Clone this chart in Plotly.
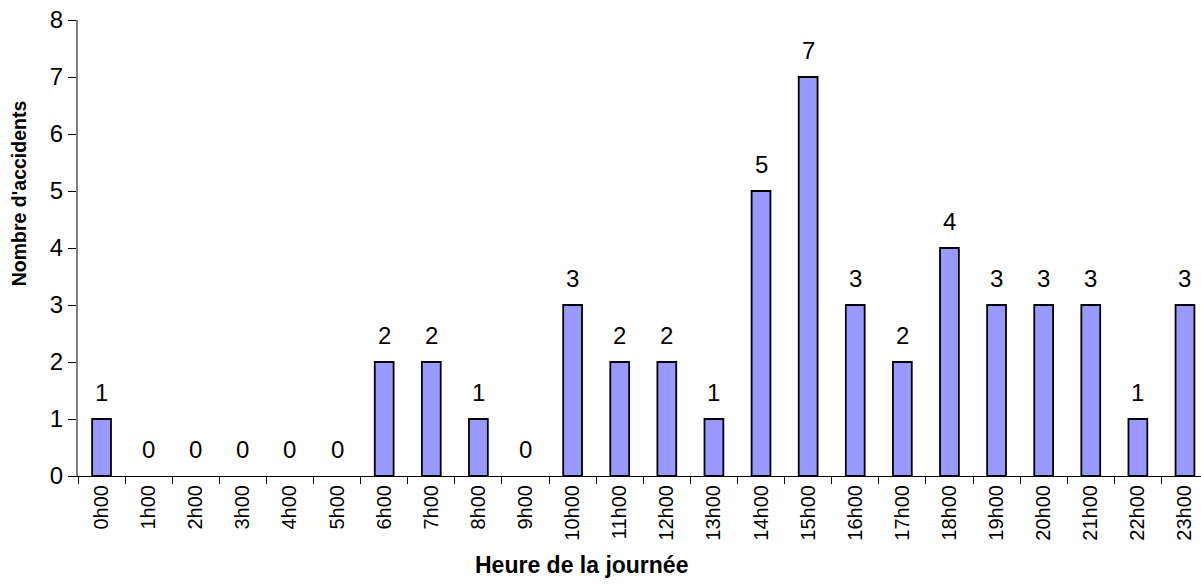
import plotly.graph_objects as go

# Accidents per hour of the day
hours = ["0h00", "1h00", "2h00", "3h00", "4h00", "5h00", "6h00", "7h00",
         "8h00", "9h00", "10h00", "11h00", "12h00", "13h00", "14h00", "15h00",
         "16h00", "17h00", "18h00", "19h00", "20h00", "21h00", "22h00", "23h00"]
accidents = [1, 0, 0, 0, 0, 0, 2, 2, 1, 0, 3, 2, 2, 1, 5, 7, 3, 2, 4, 3, 3, 3, 1, 3]

FONT = "Liberation Sans, Arial, sans-serif"
NARROW = "Liberation Sans Narrow, Arial Narrow, Liberation Sans, sans-serif"

fig = go.Figure()
fig.add_trace(go.Bar(
    x=hours,
    y=accidents,
    marker=dict(
        color="#9999FF",
        # no outline on empty hours so nothing is drawn there
        line=dict(color="#000000", width=[1.8 if v else 0 for v in accidents]),
    ),
    width=0.4,
    hoverinfo="x+y",
))

# Value labels above each bar
for h, v in zip(hours, accidents):
    fig.add_annotation(
        x=h, y=v, text=str(v), showarrow=False,
        yanchor="bottom", yshift=11,
        font=dict(family=FONT, size=24, color="#000000"),
    )

# Axis titles
fig.add_annotation(
    xref="paper", yref="paper", x=0.448, y=-0.195,
    text="<b>Heure de la journée</b>", showarrow=False,
    xanchor="center", yanchor="middle",
    font=dict(family=FONT, size=23, color="#000000"),
)
fig.add_annotation(
    xref="paper", yref="paper", x=-0.0525, y=0.62,
    text="<b>Nombre d'accidents</b>", showarrow=False, textangle=-90,
    xanchor="center", yanchor="middle",
    font=dict(family=FONT, size=19.5, color="#000000"),
)

fig.update_layout(
    width=1201, height=586,
    margin=dict(l=78, r=0, t=20, b=110),
    plot_bgcolor="white",
    paper_bgcolor="white",
    showlegend=False,
    font=dict(family=FONT, color="#000000"),
    xaxis=dict(
        type="category",
        range=[-0.5, 23.34],
        tickson="boundaries",
        ticks="outside", ticklen=7, tickcolor="#000000", tickwidth=1,
        showline=True, linecolor="#000000", linewidth=1,
        tickangle=-90,
        tickfont=dict(family=NARROW, size=20, color="#000000"),
        showgrid=False,
    ),
    yaxis=dict(
        range=[0, 8],
        tickvals=[0, 1, 2, 3, 4, 5, 6, 7, 8],
        ticks="outside", ticklen=8, tickcolor="#000000", tickwidth=1,
        showline=True, linecolor="#808080", linewidth=2,
        tickfont=dict(family=FONT, size=24, color="#000000"),
        showgrid=False,
        zeroline=False,
    ),
)

fig.write_html("out.html")
